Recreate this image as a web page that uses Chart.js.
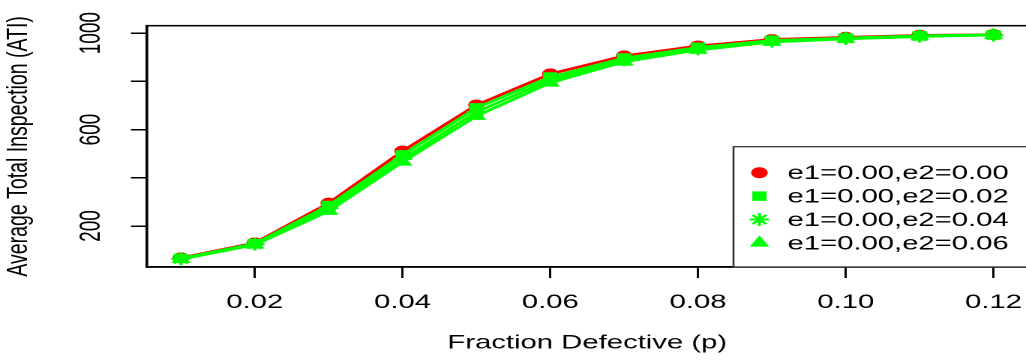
<!DOCTYPE html>
<html>
<head>
<meta charset="utf-8">
<title>ATI curves</title>
<script src="https://cdn.jsdelivr.net/npm/chart.js@4.4.1/dist/chart.umd.min.js"></script>
<style>
  html, body { margin: 0; padding: 0; background: #fff; overflow: hidden; }
  /* the reference is an R plot stretched 1.5x sideways, so draw narrow and stretch */
  #wrap { width: 686px; height: 361px; transform: scaleX(1.5); transform-origin: 0 0; }
</style>
</head>
<body>
<div id="wrap"><canvas id="atiChart" width="686" height="361"></canvas></div>
<script>
// Fraction defective on the x axis
const fractionDefective = [0.01, 0.02, 0.03, 0.04, 0.05, 0.06, 0.07, 0.08, 0.09, 0.10, 0.11, 0.12];

// ATI for each inspection error setting
const atiE2_000 = [68, 130, 295, 511, 702, 831, 906, 947, 974, 983, 991, 994];
const atiE2_002 = [66, 127, 285, 495, 690, 818, 897, 941, 970, 980, 989, 993];
const atiE2_004 = [64, 125, 274, 478, 673, 806, 889, 935, 967, 978, 988, 992];
const atiE2_006 = [62, 122, 262, 466, 656, 794, 881, 930, 963, 976, 986, 992];

const seriesLabels = ['e1=0.00,e2=0.00', 'e1=0.00,e2=0.02', 'e1=0.00,e2=0.04', 'e1=0.00,e2=0.06'];

// Tick positions and which y labels R kept
const xTicks = [0.02, 0.04, 0.06, 0.08, 0.10, 0.12];
const yTicks = [200, 400, 600, 800, 1000];
const yLabelShown = [200, 600, 1000];

const FONT = '"Liberation Sans", Arial, sans-serif';

function makeSeries(label, values, color, style, radius, order) {
    return {
        label: label,
        data: fractionDefective.map((p, i) => ({ x: p, y: values[i] })),
        borderColor: color,
        backgroundColor: color,
        borderWidth: 2.6,
        pointStyle: style,
        pointRadius: radius,
        pointBorderWidth: style === 'star' ? 2 : 1,
        pointBackgroundColor: color,
        pointBorderColor: color,
        tension: 0,
        order: order
    };
}

// Box around the plot, rotated y labels and the bottom-right legend
const rStyle = {
    id: 'rStyle',
    afterDraw(chart) {
        const ctx = chart.ctx;
        const a = chart.chartArea;
        ctx.save();

        ctx.strokeStyle = '#000';
        ctx.lineWidth = 1.6;
        ctx.strokeRect(a.left, a.top, a.right - a.left, a.bottom - a.top);

        ctx.fillStyle = '#000';
        ctx.font = '19px ' + FONT;
        ctx.textAlign = 'center';
        ctx.textBaseline = 'alphabetic';
        yLabelShown.forEach(v => {
            const y = chart.scales.y.getPixelForValue(v);
            ctx.save();
            ctx.translate(a.left - 31.5, y);
            ctx.rotate(-Math.PI / 2);
            ctx.fillText(String(v), 0, 0);
            ctx.restore();
        });

        // legend
        const lx = a.right - 196;
        const ly = a.top + 121;
        ctx.fillStyle = '#fff';
        ctx.fillRect(lx, ly, a.right - lx, a.bottom - ly);
        ctx.strokeStyle = '#333';
        ctx.lineWidth = 1.3;
        ctx.strokeRect(lx, ly, a.right - lx, a.bottom - ly);

        ctx.font = '19.5px ' + FONT;
        ctx.textAlign = 'left';
        ctx.textBaseline = 'middle';
        chart.data.datasets.forEach((ds, i) => {
            const y = ly + 26 + i * 23.4;
            ctx.fillStyle = ds.backgroundColor;
            ctx.strokeStyle = ds.borderColor;
            ctx.lineWidth = ds.pointBorderWidth;
            Chart.helpers.drawPoint(ctx, { pointStyle: ds.pointStyle, radius: ds.pointRadius, rotation: 0, borderWidth: ds.pointBorderWidth }, lx + 17.3, y);
            ctx.fillStyle = '#000';
            ctx.fillText(ds.label, lx + 36, y + 1);
        });
        ctx.restore();
    }
};

const ctx = document.getElementById('atiChart').getContext('2d');
new Chart(ctx, {
    type: 'line',
    data: {
        datasets: [
            makeSeries(seriesLabels[0], atiE2_000, '#FF0000', 'circle', 5, 4),
            makeSeries(seriesLabels[1], atiE2_002, '#00FF00', 'rect', 6, 3),
            makeSeries(seriesLabels[2], atiE2_004, '#00FF00', 'star', 6.5, 2),
            makeSeries(seriesLabels[3], atiE2_006, '#00FF00', 'triangle', 6.5, 1)
        ]
    },
    options: {
        responsive: false,
        devicePixelRatio: 2,
        animation: false,
        layout: { autoPadding: false, padding: { top: 25.7, right: 1, left: 0, bottom: 0 } },
        plugins: { legend: { display: false }, tooltip: { enabled: false } },
        scales: {
            x: {
                type: 'linear',
                min: 0.0054,
                max: 0.1246,
                afterBuildTicks: scale => { scale.ticks = xTicks.map(v => ({ value: v })); },
                afterFit: scale => {
                    scale.height = 94;
                    scale.paddingLeft = 0;
                    scale.paddingRight = 0;
                },
                ticks: {
                    color: '#000',
                    font: { family: FONT, size: 19.5 },
                    padding: 13,
                    maxRotation: 0,
                    callback: v => v.toFixed(2)
                },
                grid: { drawOnChartArea: false, drawTicks: true, tickLength: 11, color: '#000', lineWidth: 1.5 },
                border: { display: true, color: '#000', width: 1.6 },
                title: {
                    display: true,
                    text: 'Fraction Defective (p)',
                    color: '#000',
                    font: { family: FONT, size: 19.5 },
                    padding: { top: 0, bottom: 6 }
                }
            },
            y: {
                type: 'linear',
                min: 30,
                max: 1031,
                afterBuildTicks: scale => { scale.ticks = yTicks.map(v => ({ value: v })); },
                afterFit: scale => {
                    scale.width = 98;
                    scale.paddingTop = 0;
                    scale.paddingBottom = 0;
                },
                ticks: { display: false },
                grid: { drawOnChartArea: false, drawTicks: true, tickLength: 10.7, color: '#000', lineWidth: 1.5 },
                border: { display: true, color: '#000', width: 1.6 },
                title: {
                    display: true,
                    text: 'Average Total Inspection (ATI)',
                    color: '#000',
                    font: { family: FONT, size: 19.5 },
                    padding: { top: 1, bottom: 0 }
                }
            }
        }
    },
    plugins: [rStyle]
});
</script>
</body>
</html>
